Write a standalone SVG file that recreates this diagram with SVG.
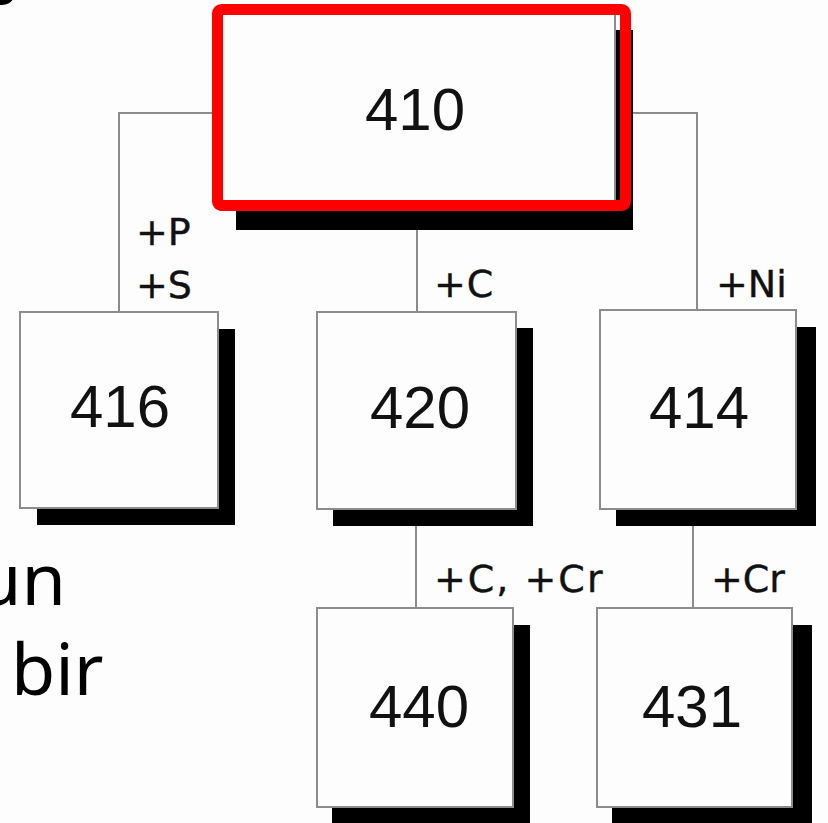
<svg xmlns="http://www.w3.org/2000/svg" width="828" height="823" viewBox="0 0 828 823">
  <defs>
    <style>
      .bg { fill: #fdfdfd; }
      .shadow { fill: #000000; }
      .box { fill: #fdfdfd; stroke: #8c8c8c; stroke-width: 2; }
      .num { font-family: "Liberation Sans", Arial, sans-serif; font-size: 60px; fill: #111111; text-anchor: middle; }
      .lbl { font-family: "DejaVu Sans", "Liberation Sans", sans-serif; font-size: 38px; fill: #111111; stroke: #111111; stroke-width: 0.4; }
      .wire { fill: none; stroke: #8c8c8c; stroke-width: 2; }
      .body { font-family: "Noto Sans", "Open Sans", sans-serif; font-size: 72px; fill: #000000; }
      .mark { fill: none; stroke: #ff0000; stroke-width: 11; }
    </style>
  </defs>

  <rect class="bg" x="0" y="0" width="828" height="823"/>

  <!-- slide text around the chart -->
  <g id="slide-text">
    <text class="body" x="-4" y="-12">y</text>
    <text class="body" x="66" y="605" text-anchor="end">un</text>
    <text class="body" x="11" y="695">bir</text>
  </g>

  <!-- connectors -->
  <g id="connectors">
    <polyline class="wire" points="119,312 119,113 697,113 697,310"/>
    <line class="wire" x1="417" y1="228" x2="417" y2="312"/>
    <line class="wire" x1="416" y1="524" x2="416" y2="608"/>
    <line class="wire" x1="693" y1="524" x2="693" y2="608"/>
  </g>

  <!-- connector labels -->
  <g id="labels">
    <text class="lbl" x="136" y="245">+P</text>
    <text class="lbl" x="136" y="298">+S</text>
    <text class="lbl" x="434" y="297" letter-spacing="1">+C</text>
    <text class="lbl" x="716" y="297">+Ni</text>
    <text class="lbl" x="434" y="592" letter-spacing="2">+C, +Cr</text>
    <text class="lbl" x="711" y="592">+Cr</text>
  </g>

  <g id="node-410">
    <rect class="shadow" x="236" y="30" width="397" height="200"/>
    <rect class="box" x="220" y="13" width="395" height="197"/>
    <text class="num" x="415" y="130">410</text>
    <rect class="mark" x="217.5" y="9.5" width="408" height="196" rx="4"/>
  </g>

  <g id="node-416">
    <rect class="shadow" x="37" y="329" width="198" height="196"/>
    <rect class="box" x="20" y="312" width="198" height="196"/>
    <text class="num" x="120" y="427">416</text>
  </g>

  <g id="node-420">
    <rect class="shadow" x="333" y="328" width="200" height="198"/>
    <rect class="box" x="317" y="312" width="199" height="197"/>
    <text class="num" x="420" y="428">420</text>
  </g>

  <g id="node-414">
    <rect class="shadow" x="616" y="327" width="200" height="199"/>
    <rect class="box" x="600" y="310" width="196" height="199"/>
    <text class="num" x="699" y="428">414</text>
  </g>

  <g id="node-440">
    <rect class="shadow" x="332" y="625" width="198" height="198"/>
    <rect class="box" x="317" y="608" width="196" height="199"/>
    <text class="num" x="419" y="727">440</text>
  </g>

  <g id="node-431">
    <rect class="shadow" x="612" y="625" width="200" height="198"/>
    <rect class="box" x="597" y="608" width="195" height="199"/>
    <text class="num" x="692" y="727">431</text>
  </g>
</svg>
